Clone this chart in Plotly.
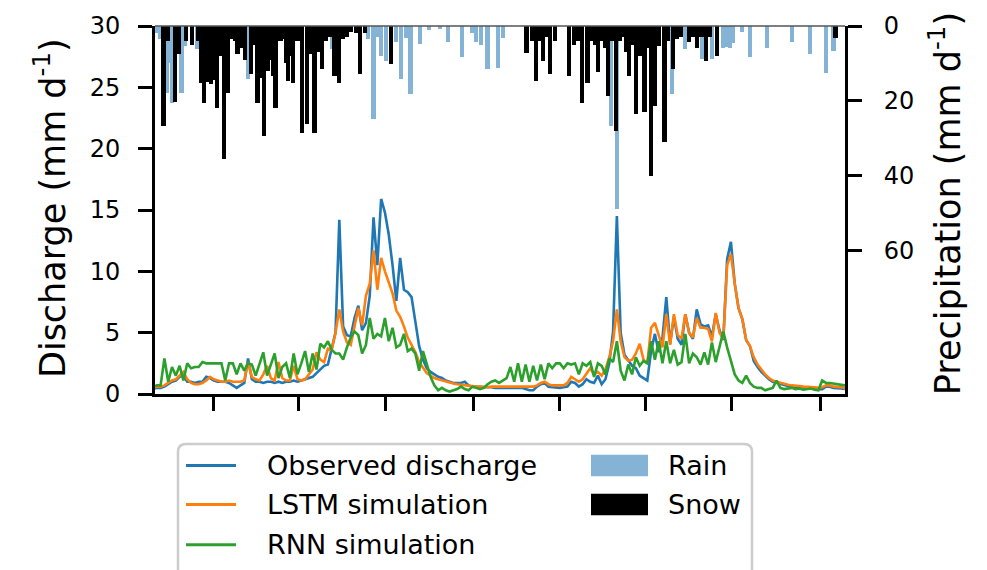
import plotly.graph_objects as go

# ---------------- data ----------------
# daily index (every 4th day of a two-year period)
days = list(range(0, 729, 4))

observed = [0.4,0.5,0.5,0.6,0.8,1.0,1.1,1.4,1.5,1.0,
            1.0,0.9,1.0,1.0,1.4,1.3,1.1,1.0,1.0,1.0,
            0.9,0.7,0.5,0.7,0.9,2.9,1.2,1.0,1.0,0.9,
            1.0,1.0,0.9,1.0,0.9,1.0,1.0,1.1,1.0,1.1,
            1.2,1.3,1.4,1.7,2.0,2.3,2.4,3.6,5.0,14.2,
            5.5,4.8,4.7,6.2,7.2,5.2,5.8,8.0,14.4,10.5,
            15.9,14.8,13.0,10.5,7.6,11.1,8.5,8.3,7.9,5.9,
            3.9,2.8,2.1,1.8,1.6,1.4,1.3,1.1,1.0,0.9,
            0.9,0.9,1.0,0.7,0.6,0.6,0.6,0.55,0.55,0.55,
            0.5,0.5,0.5,0.55,0.55,0.5,0.5,0.5,0.4,0.3,
            0.3,0.6,0.8,0.9,0.6,0.55,0.55,0.5,0.55,0.6,
            1.0,0.9,0.6,0.8,1.2,1.0,0.9,1.5,0.8,1.2,
            2.5,5.1,14.5,5.0,3.2,2.7,2.3,2.1,1.5,1.3,
            1.1,3.5,4.9,3.4,4.6,7.9,4.1,6.3,4.5,4.0,
            6.5,5.0,4.5,6.9,5.7,5.5,5.6,4.7,6.5,5.2,
            4.4,11.0,12.4,9.0,7.0,6.1,4.4,3.9,2.7,2.2,
            1.8,1.5,1.2,1.0,0.9,0.8,0.7,0.65,0.6,0.6,
            0.55,0.5,0.5,0.5,0.45,0.4,0.4,0.6,0.6,0.5,
            0.5,0.45,0.4]

lstm = [0.5,0.6,0.6,0.7,0.9,1.1,1.2,1.5,1.8,1.2,
        0.9,0.8,0.8,0.9,1.1,1.4,1.2,1.1,1.0,1.0,
        1.1,1.0,1.0,1.0,1.1,2.6,1.4,1.2,1.1,1.6,
        2.3,1.3,1.1,2.6,1.3,1.1,1.1,2.3,1.2,1.1,
        1.2,1.6,2.0,3.4,2.8,2.6,3.7,3.6,5.0,6.9,
        5.1,4.2,4.0,5.5,7.0,5.6,8.0,9.0,11.7,8.5,
        11.1,10.0,9.0,8.2,6.8,6.3,5.5,4.6,4.0,3.4,
        2.6,2.1,1.7,1.5,1.3,1.2,1.1,1.0,0.9,0.85,
        0.8,0.75,0.7,0.65,0.6,0.6,0.6,0.55,0.55,0.6,
        0.6,0.6,0.65,0.65,0.65,0.6,0.6,0.6,0.6,0.6,
        0.6,0.7,0.9,1.0,0.8,0.7,0.7,0.7,0.7,0.9,
        1.4,1.2,1.0,1.2,1.7,2.1,1.6,1.8,1.5,2.0,
        3.0,4.3,6.9,4.3,3.0,2.7,2.8,3.3,4.1,2.8,
        2.5,5.4,5.8,4.8,3.8,6.5,4.0,6.5,4.8,4.5,
        6.5,5.0,4.6,6.2,5.4,5.4,5.3,4.3,6.6,5.0,
        4.5,10.5,11.4,9.0,7.0,6.1,4.4,3.9,3.0,2.4,
        2.0,1.6,1.3,1.1,1.0,0.9,0.8,0.75,0.7,0.7,
        0.65,0.6,0.6,0.6,0.55,0.5,0.55,0.7,0.7,0.6,
        0.6,0.55,0.5]

rnn = [0.6,0.7,0.7,2.9,1.0,2.2,1.5,2.3,1.1,2.5,
       2.1,2.2,2.2,2.6,2.5,2.5,2.5,2.5,2.5,1.1,
       2.5,2.5,1.6,2.5,1.9,2.5,2.4,1.5,2.5,3.4,
       1.5,2.4,3.3,1.3,2.2,2.5,1.3,3.3,1.6,2.5,
       3.5,1.8,3.3,2.0,4.1,3.8,4.3,3.6,3.3,3.3,
       2.8,3.8,4.6,5.1,4.8,3.3,4.0,6.2,4.5,4.9,
       4.7,6.2,4.3,5.4,3.8,4.0,4.9,3.5,3.7,3.3,
       1.9,3.5,2.5,1.4,0.7,0.3,0.5,0.3,0.2,0.3,
       0.4,0.6,0.4,0.3,0.6,0.5,0.4,0.5,0.8,1.0,
       1.1,0.9,1.1,1.3,2.2,1.0,2.5,1.0,2.4,1.0,
       2.3,1.1,2.4,1.2,2.5,2.1,2.5,2.5,2.1,2.5,
       2.4,2.5,1.6,2.5,2.3,2.6,1.4,2.5,2.3,1.6,
       2.9,2.6,4.3,1.9,1.1,2.4,1.6,3.0,2.3,2.7,
       2.5,4.3,2.8,4.3,2.5,4.3,2.5,3.6,2.4,2.6,
       4.9,2.5,3.3,3.0,2.4,3.4,2.4,4.2,2.6,3.8,
       5.1,3.8,2.7,1.6,1.1,0.9,1.5,0.9,0.6,0.5,
       0.5,0.3,0.4,0.5,1.1,0.5,0.4,0.45,0.5,0.4,
       0.45,0.35,0.4,0.45,0.35,0.3,1.1,0.9,0.9,0.85,
       0.8,0.7,0.7]

rain_day = [4, 7, 15, 18, 20, 30, 34, 46, 100, 188, 226, 232, 237, 240, 245,
            256, 261, 266, 271, 281, 290, 302, 310, 325, 336, 340, 345, 352,
            363, 368, 482, 488, 528, 546, 560, 572, 578, 588, 600, 603, 607,
            610, 620, 628, 646, 672, 691, 708, 716]
rain_mm = [2.0, 3.6, 17.8, 10.0, 20.5, 17.8, 5.3, 6.2, 14.2, 6.2, 3.6, 24.9, 3.0,
           8.0, 9.3, 4.4, 14.2, 3.3, 18.2, 4.9, 1.0, 0.8, 4.4, 8.4, 2.0, 4.4,
           5.0, 11.5, 11.1, 3.1, 26.7, 48.8, 12.0, 18.2, 6.2, 5.8, 8.9, 8.9,
           5.8, 5.5, 5.8, 4.5, 1.5, 8.4, 5.8, 4.4, 7.5, 12.5, 6.7]

snow_day = [11, 16, 23, 27, 35, 41, 47, 51, 54, 57, 61, 64, 67, 71, 75, 79, 82,
            86, 89, 94, 97, 103, 107, 110, 114, 117, 121, 124, 126, 129, 134,
            137, 140, 142, 145, 147, 152, 154, 157, 162, 166, 170, 175, 178,
            182, 186, 191, 196, 200, 204, 208, 214, 218, 223, 250,
            393, 399, 403, 407, 410, 414, 418, 423, 438, 443, 447, 451, 457,
            461, 465, 468, 472, 476, 479, 483, 487, 491, 494, 498, 501, 505,
            508, 512, 517, 521, 524, 528, 532, 538, 542, 547, 551, 555, 564,
            568, 572, 577, 582, 586, 593, 718]
snow_mm = [26.7, 4.0, 20.4, 7.5, 4.0, 5.0, 4.0, 15.2, 20.5, 15.0, 15.5, 14.5,
           21.8, 8.0, 35.5, 17.8, 3.6, 4.0, 7.5, 6.0, 9.0, 12.9, 5.0, 20.5,
           14.0, 29.3, 12.0, 9.0, 13.3, 21.8, 4.0, 3.5, 10.0, 14.7, 8.0, 15.2,
           4.0, 3.5, 28.5, 26.2, 7.5, 28.5, 6.9, 11.5, 4.0, 3.0, 13.3, 15.2,
           3.6, 3.0, 1.5, 2.0, 12.9, 2.0, 10.2,
           7.1, 4.0, 14.7, 4.0, 9.3, 3.0, 12.9, 4.0, 13.3, 5.0, 4.0, 20.5,
           15.2, 4.0, 5.0, 12.4, 4.0, 6.0, 18.7, 4.0, 28.0, 4.0, 3.0, 7.0,
           13.3, 5.0, 23.6, 8.0, 23.1, 6.0, 40.0, 21.3, 5.3, 31.1, 4.0, 11.6,
           3.6, 3.0, 4.4, 3.0, 6.0, 3.0, 9.3, 3.0, 8.0, 3.1]

x_ticks = [64, 153, 245, 337, 428, 518, 609, 702]
q_ticks = [0, 5, 10, 15, 20, 25, 30]
p_ticks = [0, 20, 40, 60]

# ---------------- figure ----------------
W, H = 987, 570
L, R, T, B = 155, 142, 18, 176
PW, PH = W - L - R, H - T - B
FONT = "DejaVu Sans"
BLUE, ORANGE, GREEN = "#1f77b4", "#ff7f0e", "#2ca02c"
RAIN = "#84b3d6"


def px(x):
    return (x - L) / PW


def py(y):
    return (H - B - y) / PH


fig = go.Figure()
fig.add_trace(go.Scatter(x=days, y=observed, mode="lines", name="Observed discharge",
                         line=dict(color=BLUE, width=2.6), showlegend=False))
fig.add_trace(go.Scatter(x=days, y=lstm, mode="lines", name="LSTM simulation",
                         line=dict(color=ORANGE, width=2.6), showlegend=False))
fig.add_trace(go.Scatter(x=days, y=rnn, mode="lines", name="RNN simulation",
                         line=dict(color=GREEN, width=2.6), showlegend=False))
fig.add_trace(go.Bar(x=rain_day, y=rain_mm, yaxis="y2", width=4.5, name="Rain",
                     marker=dict(color=RAIN, line=dict(width=0)), showlegend=False))
fig.add_trace(go.Bar(x=snow_day, y=snow_mm, yaxis="y2", width=4.5, name="Snow",
                     marker=dict(color="black", line=dict(width=0)), showlegend=False))

tickfont = dict(family=FONT, size=24, color="black")
fig.update_layout(
    width=W, height=H,
    margin=dict(l=L, r=R, t=T, b=B),
    paper_bgcolor="white", plot_bgcolor="white",
    barmode="overlay", bargap=0,
    xaxis=dict(range=[2.1, 728], tickvals=x_ticks, showticklabels=False,
               showgrid=False, zeroline=False, showline=True, linecolor="black",
               linewidth=3, ticks="outside", ticklen=14, tickwidth=3, tickcolor="black"),
    yaxis=dict(range=[0, 30], tickvals=q_ticks, showgrid=False, zeroline=False,
               showline=True, linecolor="black", linewidth=3, ticks="outside",
               ticklen=14, tickwidth=3, tickcolor="black", tickfont=tickfont,
               ticklabelstandoff=13),
    yaxis2=dict(range=[98.3, 0], tickvals=p_ticks, overlaying="y", side="right",
                showgrid=False, zeroline=False, showline=True, linecolor="black",
                linewidth=3, ticks="outside", ticklen=14, tickwidth=3,
                tickcolor="black", tickfont=tickfont, ticklabelstandoff=17),
)

# top spine
fig.add_shape(type="line", xref="paper", yref="paper", x0=0, x1=1, y0=1, y1=1,
              line=dict(color="#555555", width=1.5))

# axis titles
fig.add_annotation(text="Discharge (mm d<sup>-1</sup>)", xref="paper", yref="paper",
                   x=px(50), y=py(204), textangle=-90, showarrow=False,
                   xanchor="center", yanchor="middle",
                   font=dict(family=FONT, size=35, color="black"))
fig.add_annotation(text="Precipitation (mm d<sup>-1</sup>)", xref="paper", yref="paper",
                   x=px(945), y=py(200), textangle=-90, showarrow=False,
                   xanchor="center", yanchor="middle",
                   font=dict(family=FONT, size=35, color="black"))

# legend (drawn manually)
bx0, bx1, by0, by1, r = 178, 752, 445, 600, 8
path = (f"M {px(bx0 + r)},{py(by0)} L {px(bx1 - r)},{py(by0)} "
        f"Q {px(bx1)},{py(by0)} {px(bx1)},{py(by0 + r)} L {px(bx1)},{py(by1)} "
        f"L {px(bx0)},{py(by1)} L {px(bx0)},{py(by0 + r)} "
        f"Q {px(bx0)},{py(by0)} {px(bx0 + r)},{py(by0)} Z")
fig.add_shape(type="path", xref="paper", yref="paper", path=path,
              line=dict(color="#cccccc", width=2.5), fillcolor="white", layer="above")

leg_lines = [("Observed discharge", BLUE, 467), ("LSTM simulation", ORANGE, 507),
             ("RNN simulation", GREEN, 548)]
for name, col, yy in leg_lines:
    fig.add_shape(type="line", xref="paper", yref="paper", x0=px(186), x1=px(236),
                  y0=py(yy), y1=py(yy), line=dict(color=col, width=3), layer="above")
    fig.add_annotation(text=name, xref="paper", yref="paper", x=px(265), y=py(yy),
                       xanchor="left", yanchor="middle", showarrow=False,
                       font=dict(family=FONT, size=27, color="black"))

leg_patches = [("Rain", RAIN, 467), ("Snow", "black", 507)]
for name, col, yy in leg_patches:
    fig.add_shape(type="rect", xref="paper", yref="paper", x0=px(591), x1=px(648),
                  y0=py(yy - 11), y1=py(yy + 11), line=dict(width=0), fillcolor=col,
                  layer="above")
    fig.add_annotation(text=name, xref="paper", yref="paper", x=px(666), y=py(yy),
                       xanchor="left", yanchor="middle", showarrow=False,
                       font=dict(family=FONT, size=27, color="black"))

fig.write_html("out.html")
